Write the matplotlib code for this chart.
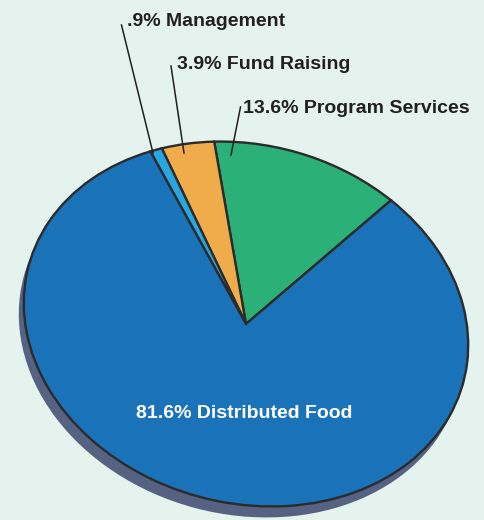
import matplotlib.pyplot as plt
from matplotlib.patches import Ellipse
from matplotlib.transforms import Affine2D

# pie data, in drawing order (counter-clockwise from the start angle)
names = ['Program Services', 'Fund Raising', 'Management', 'Distributed Food']
shares = [13.6, 3.9, 0.9, 81.6]
pct_labels = ['13.6%', '3.9%', '.9%', '81.6%']
colors = ['#2bb077', '#f0ac4a', '#27a6e0', '#1a72b8']

bg = '#e5f3ee'
edge = '#2b2b2b'
ink = '#231f20'

W, H = 484, 520
fig = plt.figure(figsize=(W / 100, H / 100), dpi=100, facecolor=bg)
ax = fig.add_axes([0, 0, 1, 1])
ax.set_facecolor(bg)

# axes in pixel units, y measured from the top
ax.set_xlim(0, W)
ax.set_ylim(H, 0)

# tilted, squashed pie: unit circle -> ellipse
cx, cy = 246, 324
a, b, tilt = 225, 179, 15


def pie_tf(dx=0, dy=0):
    # y axis points down here, so flip b to keep angles counter-clockwise
    return Affine2D().scale(a, -b).rotate_deg(tilt).translate(cx + dx, cy + dy) + ax.transData


# depth/shadow under the pie
shadow = Ellipse((0, 0), 2, 2, facecolor='#566282', edgecolor='none', zorder=0)
ax.add_patch(shadow)
shadow.set_transform(pie_tf(-5, 11))

wedges, _ = ax.pie(shares, colors=colors, startangle=61.3, counterclock=True,
                   radius=1, center=(0, 0),
                   wedgeprops=dict(edgecolor=edge, linewidth=1.7))
for w in wedges:
    w.set_transform(pie_tf())
    w.set_zorder(1)

ax.set_aspect('auto')
ax.set_xlim(0, W)
ax.set_ylim(H, 0)
ax.axis('off')

font = dict(family=['Liberation Sans', 'DejaVu Sans'], weight='bold', size=14)

# outside labels with leader lines: text anchor, line top, line end
callouts = [
    (0, (243, 113), (240.5, 107), (231, 155)),
    (1, (177, 69), (171, 66), (184, 153)),
    (2, (127, 26), (121.5, 25), (153, 153)),
]
for i, (tx, ty), (lx, ly), (ex, ey) in callouts:
    ax.text(tx, ty, f'{pct_labels[i]} {names[i]}', ha='left', va='baseline',
            color=ink, zorder=3, **font)
    ax.plot([lx, ex], [ly, ey], color=ink, linewidth=1.1, zorder=3)

ax.text(244, 418, f'{pct_labels[3]} {names[3]}', ha='center', va='baseline',
        color='white', zorder=3, **font)

fig.savefig('out.png', dpi=100, facecolor=bg)
